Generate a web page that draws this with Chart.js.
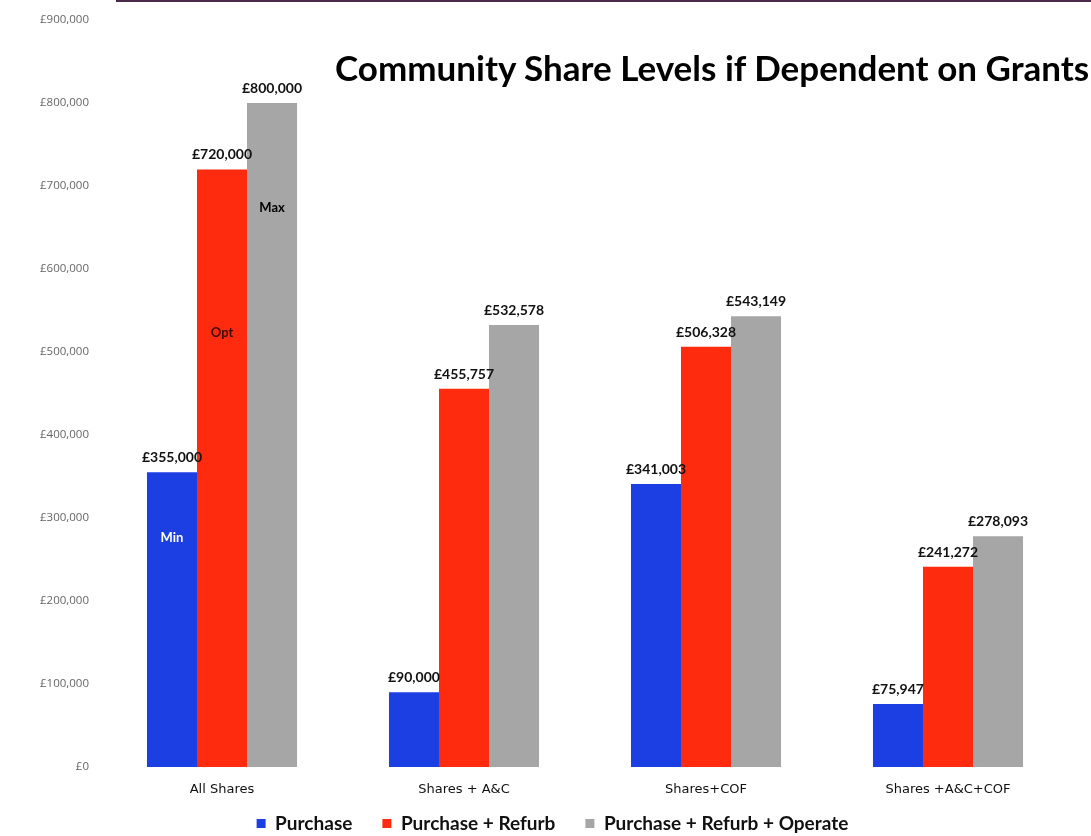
<!DOCTYPE html>
<html>
<head>
<meta charset="utf-8">
<script src="https://cdn.jsdelivr.net/npm/chart.js@4/dist/chart.umd.min.js"></script>
<style>
  html, body { margin: 0; padding: 0; background: #fff; }
  #wrap { position: relative; width: 1091px; height: 836px; }
  #topLine { position: absolute; left: 116px; right: 0; top: 0; height: 2px; background: #4a2a48; }
  #title { position: absolute; left: 335px; top: 46px; font: bold 35px Lato, "Open Sans", sans-serif; color: #000; white-space: nowrap; }
</style>
</head>
<body>
<div id="wrap">
  <canvas id="chart" width="1091" height="836"></canvas>
  <div id="topLine"></div>
  <div id="title">Community Share Levels if Dependent on Grants</div>
</div>
<script>
// ── Data ─────────────────────────────────────────────
var categories = ["All Shares", "Shares + A&C", "Shares+COF", "Shares +A&C+COF"];
var purchase        = [355000, 90000, 341003, 75947];
var purchaseRefurb  = [720000, 455757, 506328, 241272];
var purchaseOperate = [800000, 532578, 543149, 278093];
var seriesNames = ["Purchase", "Purchase + Refurb", "Purchase + Refurb + Operate"];
var yTicks = [0, 100000, 200000, 300000, 400000, 500000, 600000, 700000, 800000, 900000];
var scenarioLabels = ["Min", "Opt", "Max"]; // shown inside the first group

function fmtGBP(v) {
  return "£" + Number(v).toLocaleString("en-GB");
}

// value labels above bars + Min/Opt/Max inside first group
var barLabels = {
  id: "barLabels",
  afterLayout: function(chart) {
    // legend sits a little higher (and right) than Chart.js would put it
    if (chart.legend) {
      chart.legend.top -= 14;
      chart.legend.height += 14;
      chart.legend.left += 18;
      chart.legend.right += 18;
    }
  },
  afterDatasetsDraw: function(chart) {
    var ctx = chart.ctx;
    ctx.save();
    ctx.textAlign = "center";
    ctx.textBaseline = "alphabetic";
    ctx.font = "bold 14px Lato, 'Open Sans', sans-serif";
    ctx.fillStyle = "#111";
    chart.data.datasets.forEach(function(ds, i) {
      var meta = chart.getDatasetMeta(i);
      meta.data.forEach(function(bar, j) {
        ctx.fillText(fmtGBP(ds.data[j]), bar.x, bar.y - 10);
      });
    });
    // inner scenario labels
    var offsets = [70, 168, 109];
    var colors = ["#ffffff", "#3a0a00", "#000000"];
    ctx.font = "bold 13px Lato, 'Open Sans', sans-serif";
    scenarioLabels.forEach(function(txt, i) {
      var bar = chart.getDatasetMeta(i).data[0];
      ctx.fillStyle = colors[i];
      ctx.fillText(txt, bar.x, bar.y + offsets[i]);
    });
    ctx.restore();
  }
};

new Chart(document.getElementById("chart"), {
  type: "bar",
  data: {
    labels: categories,
    datasets: [
      { label: seriesNames[0], data: purchase,        backgroundColor: "#1c3fe3" },
      { label: seriesNames[1], data: purchaseRefurb,  backgroundColor: "#ff2b0f" },
      { label: seriesNames[2], data: purchaseOperate, backgroundColor: "#a6a6a6" }
    ]
  },
  options: {
    responsive: false,
    animation: false,
    devicePixelRatio: 1,
    layout: { padding: { left: 0, right: 22, top: 20, bottom: 0 } },
    datasets: { bar: { categoryPercentage: 0.62, barPercentage: 1.0 } },
    scales: {
      x: {
        grid: { display: false },
        border: { display: false },
        ticks: { color: "#111", font: { family: "'DejaVu Sans', sans-serif", size: 13 }, padding: 7, maxRotation: 0 },
        afterFit: function(scale) { scale.height = 31; }
      },
      y: {
        min: 0,
        max: 900000,
        grid: { display: false },
        border: { display: false },
        afterBuildTicks: function(scale) {
          scale.ticks = yTicks.map(function(v) { return { value: v }; });
        },
        ticks: {
          color: "#666",
          font: { family: "'Open Sans', sans-serif", size: 11.5 },
          padding: 4,
          callback: function(v) { return fmtGBP(v); }
        },
        afterFit: function(scale) { scale.width = 101; }
      }
    },
    plugins: {
      title: { display: false },
      tooltip: { enabled: false },
      legend: {
        position: "bottom",
        maxHeight: 38,
        labels: {
          color: "#111",
          boxWidth: 9,
          boxHeight: 9,
          padding: 30,
          font: { family: "Lato, 'Open Sans', sans-serif", size: 19, weight: "bold" }
        }
      }
    }
  },
  plugins: [barLabels]
});
</script>
</body>
</html>
